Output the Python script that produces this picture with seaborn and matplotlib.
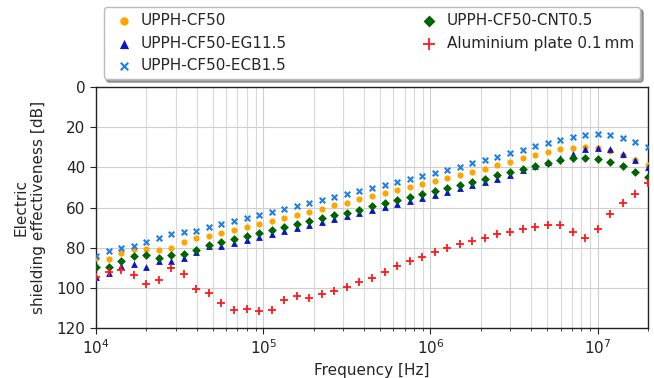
import numpy as np
import pandas as pd
import matplotlib
matplotlib.use("Agg")
import matplotlib.pyplot as plt
import seaborn as sns

# Frequencies [Hz]
freq = [1.000e4, 1.189e4, 1.413e4, 1.679e4, 1.996e4, 2.372e4, 2.819e4, 3.351e4, 3.983e4,
        4.733e4, 5.626e4, 6.687e4, 7.947e4, 9.447e4, 1.123e5, 1.335e5, 1.586e5, 1.885e5,
        2.241e5, 2.663e5, 3.166e5, 3.763e5, 4.472e5, 5.315e5, 6.318e5, 7.509e5, 8.925e5,
        1.061e6, 1.261e6, 1.499e6, 1.781e6, 2.117e6, 2.516e6, 2.991e6, 3.555e6, 4.225e6,
        5.022e6, 5.969e6, 7.094e6, 8.432e6, 1.002e7, 1.191e7, 1.416e7, 1.683e7, 2.000e7]

cf50 = [85.2, 85.5, 82.8, 80.5, 80.8, 81.2, 80.3, 77.3, 75.2, 74.3, 72.7, 71.0, 69.5, 68.2,
        66.7, 65.0, 63.5, 62.0, 60.5, 59.0, 57.7, 56.0, 54.5, 53.0, 51.5, 50.0, 48.5, 46.8,
        45.3, 43.7, 42.3, 40.7, 39.0, 37.3, 35.5, 33.8, 32.3, 31.0, 30.2, 30.0, 30.5, 31.8,
        34.0, 36.3, 38.8]

eg115 = [94.7, 92.7, 89.3, 88.0, 89.7, 86.8, 86.8, 85.2, 82.0, 79.2, 79.2, 77.7, 76.2, 74.8,
         73.3, 71.5, 70.1, 68.6, 67.0, 65.6, 64.3, 62.8, 61.3, 59.8, 58.3, 56.8, 55.3, 53.6,
         52.2, 50.5, 49.0, 47.5, 45.8, 43.8, 41.5, 39.5, 37.5, 35.2, 33.2, 31.0, 30.2, 30.8,
         33.2, 36.5, 39.7]

ecb15 = [84.2, 81.8, 80.2, 79.0, 77.0, 75.2, 73.0, 72.2, 71.7, 69.8, 68.2, 66.5, 65.0, 63.7,
         62.2, 60.8, 59.3, 57.8, 56.3, 54.8, 53.2, 51.8, 50.3, 48.7, 47.3, 45.7, 44.3, 42.7,
         41.2, 39.6, 38.0, 36.3, 34.7, 33.0, 31.3, 29.6, 27.8, 26.2, 24.8, 23.8, 23.4, 24.0,
         25.3, 27.4, 30.0]

cnt05 = [89.7, 89.7, 86.8, 84.3, 83.5, 85.2, 83.7, 83.0, 81.0, 78.5, 77.3, 75.5, 74.2, 72.8,
         71.2, 69.7, 68.3, 66.8, 65.2, 63.8, 62.5, 61.0, 59.5, 58.0, 56.5, 55.0, 53.5, 51.8,
         50.3, 48.8, 47.3, 45.8, 43.8, 42.3, 40.7, 39.1, 37.7, 36.2, 35.2, 35.2, 36.0, 37.2,
         39.2, 42.2, 45.0]

alu = [94.7, 92.3, 91.3, 93.7, 98.2, 96.3, 90.0, 93.0, 100.8, 102.5, 107.7, 110.8, 110.3,
       111.3, 110.8, 106.3, 104.0, 105.0, 103.2, 101.5, 99.5, 97.2, 95.0, 92.3, 89.3, 86.8,
       84.5, 82.3, 80.2, 78.3, 76.5, 75.0, 73.3, 72.0, 70.8, 69.7, 68.5, 68.8, 72.2, 75.0,
       70.8, 63.0, 57.7, 53.2, 48.0]

labels = ["UPPH-CF50", "UPPH-CF50-EG11.5", "UPPH-CF50-ECB1.5", "UPPH-CF50-CNT0.5",
          "Aluminium plate 0.1\u2009mm"]
yticks = [0, 20, 40, 60, 80, 100, 120]

sns.set_style("ticks")
plt.rcParams["font.family"] = ["DejaVu Sans"]
plt.rcParams["font.size"] = 11

fig = plt.figure(figsize=(6.54, 3.78), dpi=100)
ax = fig.add_axes([96 / 654, 50 / 378, 552 / 654, 241 / 378])

styles = [
    dict(marker="o", color="#FFA500", s=20, linewidth=0),
    dict(marker="^", color="#0A14C8", s=24, linewidth=0),
    dict(marker="x", color="#1E7FE8", s=16, linewidth=1.5),
    dict(marker="D", color="#006400", s=20, linewidth=0),
    dict(marker="+", color="#FF1A1A", s=40, linewidth=1.3),
]
series = [cf50, eg115, ecb15, cnt05, alu]

for vals, lab, st in zip(series, labels, styles):
    df = pd.DataFrame({"f": freq, "v": vals})
    sns.scatterplot(data=df, x="f", y="v", ax=ax, label=lab, clip_on=True, zorder=3, **st)

ax.set_xscale("log")
ax.set_xlim(1e4, 2e7)
ax.set_ylim(120, 0)
ax.set_yticks(yticks)
ax.grid(True, which="major", color="#cfcfcf", linewidth=0.8)
ax.grid(True, which="minor", axis="x", color="#d9d9d9", linewidth=0.8)
ax.set_axisbelow(True)
for sp in ax.spines.values():
    sp.set_color("#222222")
    sp.set_linewidth(1.0)
ax.tick_params(which="both", direction="out", colors="#222222", labelsize=11)
ax.tick_params(which="major", length=4)
ax.tick_params(which="minor", length=2.5)
ax.set_xlabel("Frequency [Hz]", fontsize=11)
ax.set_ylabel("Electric\nshielding effectiveness [dB]", fontsize=11, labelpad=8)

handles, labs = ax.get_legend_handles_labels()
ax.get_legend().remove()
leg = ax.legend(handles, labs, loc="lower left", bbox_to_anchor=(0.0, 1.0, 1.0, 0.2),
                mode="expand", ncol=2, fontsize=11, shadow=True, frameon=True,
                handlelength=1.8, handletextpad=0.25, borderpad=0.4, labelspacing=0.5,
                borderaxespad=0.5, markerscale=1.35)
leg.get_frame().set_edgecolor("#bbbbbb")

fig.savefig("out.png", dpi=100)
